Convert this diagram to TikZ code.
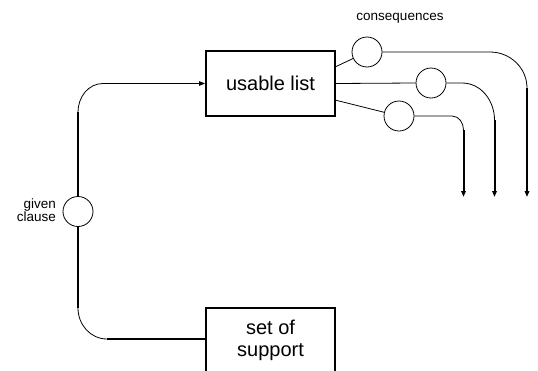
\documentclass[tikz,border=0pt]{standalone}
\usepackage{fontspec}
\setmainfont{Liberation Sans}
\usetikzlibrary{arrows.meta}
\begin{document}
\begin{tikzpicture}[x=1pt,y=-1pt,
  thickline/.style={line width=2pt},
  thinline/.style={line width=0.8pt},
  boxnode/.style={draw,line width=1.8pt,inner sep=0pt,font=\fontsize{20}{22}\selectfont,align=center},
  circ/.style={draw,circle,line width=0.8pt,minimum size=30pt,inner sep=0pt},
  tip/.style={-{Triangle[length=6pt,width=4.5pt]}},
  lbl/.style={font=\fontsize{13.5}{13.5}\selectfont,inner sep=0pt}]
\useasboundingbox (0,0) rectangle (538,370);
\node[boxnode,minimum width=129pt,minimum height=65pt] (usable) at (270.5,83.5) {usable list};
\node[boxnode,minimum width=129pt,minimum height=64pt] (sos) at (270.5,340) {set of\\support};
\node[circ] (gc) at (78,211.5) {};
\node[circ] (c1) at (367,52) {};
\node[circ] (c2) at (431,83) {};
\node[circ] (c3) at (399,116) {};
\node[lbl,align=right,anchor=east] (gcl) at (56,210) {given\\clause};
\node[lbl] (cl) at (400,18) {consequences};
% left loop
\coordinate (a1) at (107,339);
\coordinate (a2) at (78,308);
\coordinate (a3) at (78,112);
\coordinate (a4) at (103,83.5);
\draw[thickline] (sos.west |- a1) -- (a1);
\draw[thinline] (a1) to[out=180,in=-90] (a2);
\draw[thickline] (a2) -- (gc.south);
\draw[thickline] (gc.north) -- (a3);
\draw[thinline] (a3) to[out=90,in=180] (a4);
\draw[thinline,tip] (a4) -- (usable.west);
% consequences
\coordinate (u1) at (335,67);
\coordinate (u3) at (335,100);
\draw[thinline] (u1) -- (c1);
\draw[thinline] (usable.east) -- (c2.west);
\draw[thinline] (u3) -- (c3);
\coordinate (b1) at (490,52);
\coordinate (b2) at (527,88);
\coordinate (b3) at (527,197);
\draw[thinline] (c1.east) -- (b1) to[out=0,in=90] (b2);
\draw[thickline,tip] (b2) -- (b3);
\coordinate (d1) at (462,83);
\coordinate (d2) at (494.5,120);
\coordinate (d3) at (494.5,197);
\draw[thinline] (c2.east) -- (d1) to[out=0,in=90] (d2);
\draw[thickline,tip] (d2) -- (d3);
\coordinate (e1) at (452,116);
\coordinate (e2) at (463.5,130);
\coordinate (e3) at (463.5,197);
\draw[thinline] (c3.east) -- (e1) to[out=0,in=90] (e2);
\draw[thickline,tip] (e2) -- (e3);
\end{tikzpicture}
\end{document}
